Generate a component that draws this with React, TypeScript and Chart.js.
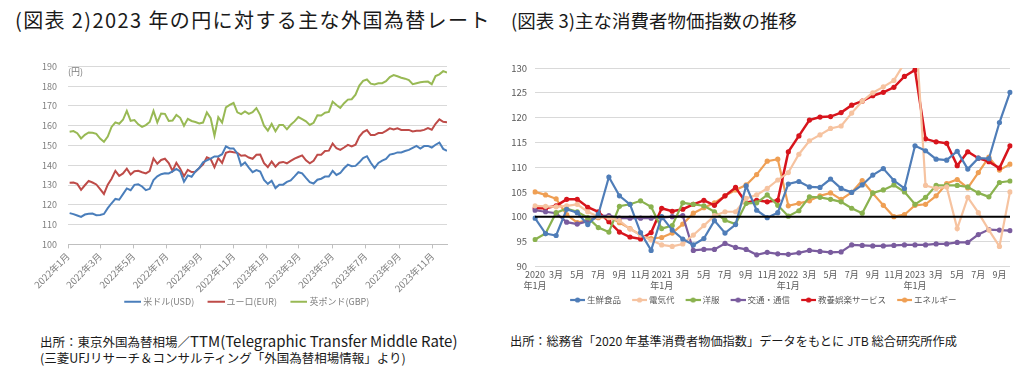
import React, { useEffect, useRef } from 'react';
import { Chart, registerables } from 'chart.js';
Chart.register(...registerables);

const FONT = '"Noto Sans CJK JP", "Noto Sans", sans-serif';

// ===== 図表2: weekly samples of JPY rates =====
const FX_AXIS_START = '2022-01-01';
const FX_AXIS_END = '2023-11-28';
const FX_FIRST_DATE = '2022-01-04';
const FX_STEP_DAYS = 7;
const FX_SERIES_LABELS = ['米ドル(USD)', 'ユーロ(EUR)', '英ポンド(GBP)'];
const FX_TICK_DATES = ['2022-01-01', '2022-03-01', '2022-05-01', '2022-07-01', '2022-09-01', '2022-11-01', '2023-01-01', '2023-03-01', '2023-05-01', '2023-07-01', '2023-09-01', '2023-11-01'];
const FX_TICK_LABELS = ['2022年1月', '2022年3月', '2022年5月', '2022年7月', '2022年9月', '2022年11月', '2023年1月', '2023年3月', '2023年5月', '2023年7月', '2023年9月', '2023年11月'];
const FX_Y_MIN = 100;
const FX_Y_MAX = 190;

const USD_JPY = [
  115.8, 115.3, 114.6, 113.9, 115.1, 115.5, 115.6, 114.8, 114.9, 115.4,
  118.3, 120.8, 123.0, 122.6, 125.4, 128.3, 127.4, 130.1, 130.4, 129.3,
  127.4, 128.1, 132.5, 134.4, 135.5, 136.0, 135.9, 136.9, 138.2, 136.9,
  131.7, 134.9, 134.2, 136.9, 138.6, 141.5, 142.5, 143.4, 144.5, 144.5,
  145.6, 149.6, 148.5, 148.5, 146.0, 139.9, 141.4, 138.8, 136.5, 137.6,
  136.8, 132.6, 130.6, 132.2, 128.5, 130.2, 130.2, 131.6, 132.4, 134.4,
  136.5, 135.9, 133.6, 131.5, 130.8, 132.7, 133.2, 134.3, 134.3, 137.2,
  135.1, 136.1, 138.5, 140.3, 139.5, 139.7, 141.5, 143.7, 144.6, 141.3,
  138.6, 141.2, 142.4, 143.2, 145.4, 145.8, 146.5, 146.5, 147.2, 147.8,
  148.8, 149.8, 148.5, 149.7, 149.8, 149.0, 150.4, 151.5, 148.3, 147.3,
];
const EUR_JPY = [
  131.2, 131.3, 130.6, 127.6, 129.9, 132.1, 131.3, 130.3, 128.0, 125.5,
  130.2, 133.2, 137.2, 134.6, 135.9, 138.3, 135.3, 137.0, 137.2, 136.5,
  135.9, 137.1, 143.5, 140.8, 142.7, 143.3, 141.1, 137.1, 141.3, 138.3,
  134.5, 137.7, 136.6, 136.7, 138.6, 140.4, 144.0, 143.2, 139.0, 143.6,
  141.2, 146.3, 147.0, 146.6, 146.3, 144.8, 145.1, 143.9, 143.3, 145.3,
  145.4, 141.1, 139.1, 141.9, 139.3, 141.3, 141.7, 141.0, 142.2, 143.4,
  144.2, 145.0, 142.5, 141.0, 142.3, 145.3, 145.3, 147.2, 147.4, 151.0,
  148.6, 147.8, 149.0, 150.3, 149.5, 150.4, 154.5, 156.8, 157.8, 155.3,
  155.3, 156.3, 156.3, 157.4, 158.7, 158.1, 158.7, 157.9, 157.8, 157.9,
  157.1, 157.5, 157.5, 157.9, 158.8, 158.0, 161.0, 163.2, 162.0, 161.8,
];
const GBP_JPY = [
  157.0, 157.3, 156.2, 153.6, 155.4, 156.6, 156.4, 155.9, 153.5, 151.9,
  154.5, 159.4, 161.7, 161.0, 163.0, 167.5, 162.5, 162.9, 160.7, 159.4,
  160.3, 161.9, 167.5, 161.7, 166.2, 166.0, 162.4, 162.6, 165.5, 164.0,
  160.0, 163.5, 162.4, 161.9, 161.2, 161.6, 166.7, 163.8, 155.0, 164.3,
  161.6, 169.3, 170.5, 171.5, 166.8, 165.9, 167.2, 166.0, 166.8, 168.9,
  165.4, 160.0, 157.5, 160.9, 157.2, 160.4, 160.4, 158.2, 160.5, 162.2,
  164.4, 163.3, 162.2, 160.4, 161.5, 165.3, 165.2, 166.6, 167.0, 172.2,
  170.5, 169.0, 171.4, 173.2, 173.4, 175.7, 180.3, 182.7, 183.4, 181.3,
  180.9, 181.5, 181.5, 182.5, 184.6, 185.6, 185.0, 184.3, 183.8, 183.1,
  181.0, 181.5, 182.0, 182.2, 182.3, 181.0, 185.1, 186.0, 187.6, 186.9,
];
const FX_COLORS = ['#4a7ebb', '#be4b48', '#98b954'];

// ===== 図表3: monthly CPI (2020=100) =====
const CPI_LABELS = [
  '2020年1月', '2月', '3月', '4月', '5月', '6月', '7月', '8月', '9月', '10月', '11月', '12月',
  '2021年1月', '2月', '3月', '4月', '5月', '6月', '7月', '8月', '9月', '10月', '11月', '12月',
  '2022年1月', '2月', '3月', '4月', '5月', '6月', '7月', '8月', '9月', '10月', '11月', '12月',
  '2023年1月', '2月', '3月', '4月', '5月', '6月', '7月', '8月', '9月', '10月',
];
const CPI_SERIES_LABELS = ['生鮮食品', '電気代', '洋服', '交通・通信', '教養娯楽サービス', 'エネルギー'];
const CPI_BASE = 100;
const CPI_Y_MIN = 90;
const CPI_Y_MAX = 130;

const FRESH_FOOD = [
  99.7, 96.6, 96.2, 101.5, 100.8, 98.4, 100.5, 108.0, 104.2, 102.5, 96.8, 93.2,
  100.0, 97.3, 95.5, 94.3, 95.6, 99.2, 96.7, 98.4, 106.2, 101.3, 99.8, 100.8,
  106.6, 107.1, 106.0, 105.9, 107.6, 105.7, 104.9, 106.4, 108.4, 109.7, 107.3, 105.7,
  114.3, 113.3, 111.6, 111.4, 113.2, 109.6, 111.8, 111.7, 119.0, 125.1,
];
const ELECTRICITY = [
  102.2, 102.1, 102.0, 102.2, 102.5, 101.0, 100.0, 99.8, 99.2, 97.5, 96.3, 95.3,
  94.3, 94.0, 94.5, 96.3, 98.2, 100.2, 101.0, 101.0, 103.7, 104.4, 105.7, 107.4,
  108.9, 112.6, 115.3, 116.5, 117.8, 118.3, 120.9, 123.3, 125.0, 126.2, 127.5, 131.0,
  140.0, 106.3, 105.7, 106.0, 97.6, 103.9, 100.8, 97.3, 94.0, 105.0,
];
const CLOTHING = [
  95.4, 96.6, 100.8, 101.6, 101.0, 99.8, 97.8, 96.9, 102.1, 102.5, 103.2, 102.0,
  97.6, 98.2, 102.8, 102.5, 102.2, 101.0, 99.3, 98.5, 102.7, 102.8, 104.4, 102.3,
  100.1, 101.2, 104.0, 103.9, 103.5, 103.0, 101.7, 100.7, 104.8, 105.4, 106.4, 105.0,
  102.5, 103.9, 106.3, 106.3, 106.3, 106.0, 104.8, 104.0, 106.9, 107.2,
];
const TRANSPORT = [
  101.3, 101.0, 100.7, 98.9, 98.5, 99.1, 100.1, 100.2, 99.7, 99.7, 99.7, 99.7,
  99.8, 100.0, 100.2, 93.2, 93.4, 93.4, 94.6, 93.8, 93.4, 92.3, 92.8, 92.5,
  92.4, 92.7, 93.2, 93.0, 92.8, 92.9, 94.3, 94.2, 94.1, 94.1, 94.2, 94.3,
  94.3, 94.3, 94.5, 94.5, 94.8, 94.8, 96.4, 97.4, 97.3, 97.2,
];
const RECREATION = [
  101.7, 101.7, 102.2, 103.5, 103.5, 101.9, 101.0, 99.0, 96.9, 95.9, 95.5, 96.8,
  101.7, 101.1, 101.5, 102.5, 103.3, 102.3, 104.2, 105.9, 102.8, 103.3, 103.0, 103.3,
  113.1, 116.3, 119.5, 120.1, 120.2, 121.0, 122.5, 123.3, 124.4, 125.1, 126.1, 128.3,
  129.6, 115.7, 115.1, 114.8, 110.3, 113.1, 111.8, 111.1, 109.8, 114.3,
];
const ENERGY = [
  105.0, 104.4, 103.6, 100.4, 98.8, 99.3, 99.8, 100.0, 98.8, 97.6, 96.3, 95.6,
  95.8, 96.7, 98.5, 100.7, 101.8, 102.8, 104.2, 105.4, 106.4, 108.5, 111.2, 111.6,
  102.2, 102.7, 103.2, 104.2, 104.8, 103.5, 104.9, 107.3, 104.7, 102.3, 100.0, 100.4,
  102.3, 102.5, 104.2, 106.7, 107.5, 105.8, 108.9, 112.0, 109.4, 110.6,
];
const CPI_COLORS = ['#4f7db8', '#f6c3a0', '#8ab24f', '#7a5c9e', '#d7141c', '#ef9f54'];

const dayOf = (d: string) =>
  Math.round((Date.parse(d + 'T00:00:00Z') - Date.parse(FX_AXIS_START + 'T00:00:00Z')) / 86400000);

// legend marker image: visible line (length len) drawn at the right end of an image of width imgW
function makeMarker(color: string, imgW: number, len: number, lineWidth: number, radius: number): HTMLCanvasElement {
  const c = document.createElement('canvas');
  const h = Math.ceil(Math.max(lineWidth, radius * 2) + 2);
  c.width = imgW;
  c.height = h;
  const ctx = c.getContext('2d')!;
  ctx.strokeStyle = color;
  ctx.lineWidth = lineWidth;
  ctx.beginPath();
  ctx.moveTo(imgW - len, h / 2);
  ctx.lineTo(imgW, h / 2);
  ctx.stroke();
  if (radius > 0) {
    ctx.fillStyle = color;
    ctx.beginPath();
    ctx.arc(imgW - len / 2, h / 2, radius, 0, Math.PI * 2);
    ctx.fill();
  }
  return c;
}

export default function App() {
  const c1 = useRef<HTMLCanvasElement>(null);
  const c2 = useRef<HTMLCanvasElement>(null);

  useEffect(() => {
    const firstDay = dayOf(FX_FIRST_DATE);
    const fxSeries = [USD_JPY, EUR_JPY, GBP_JPY];
    const fxMarkers = FX_COLORS.map((c) => makeMarker(c, 30, 17, 2, 0));
    const chart1 = new Chart(c1.current!, {
      type: 'line',
      data: {
        datasets: fxSeries.map((arr, k) => ({
          label: FX_SERIES_LABELS[k],
          data: arr.map((y, i) => ({ x: firstDay + i * FX_STEP_DAYS, y })),
          borderColor: FX_COLORS[k],
          backgroundColor: FX_COLORS[k],
          borderWidth: 2,
          pointRadius: 0,
          pointHoverRadius: 0,
          tension: 0,
        })),
      },
      options: {
        animation: false,
        responsive: true,
        maintainAspectRatio: false,
        layout: { padding: { left: 36, right: 58, top: 12.7, bottom: 3.8 } },
        plugins: {
          tooltip: { enabled: false },
          legend: {
            position: 'bottom',
            labels: {
              usePointStyle: true,
              pointStyleWidth: 25,
              padding: 2.8,
              color: '#7f7f7f',
              font: { family: FONT, size: 9 },
              generateLabels: (chart: any) =>
                chart.data.datasets.map((ds: any, i: number) => ({
                  text: ds.label,
                  pointStyle: fxMarkers[i],
                  fillStyle: ds.borderColor,
                  strokeStyle: ds.borderColor,
                  fontColor: '#7f7f7f',
                  lineWidth: 0,
                  hidden: false,
                  datasetIndex: i,
                })),
            },
          },
        },
        scales: {
          x: {
            type: 'linear',
            min: 0,
            max: dayOf(FX_AXIS_END),
            afterBuildTicks: (s: any) => {
              s.ticks = FX_TICK_DATES.map((d) => ({ value: dayOf(d) }));
            },
            afterFit: (s: any) => {
              s.height = 50;
            },
            grid: { drawOnChartArea: false, drawTicks: true, tickLength: 4, color: '#bfbfbf' },
            border: { display: true, color: '#bfbfbf' },
            ticks: {
              autoSkip: false,
              minRotation: 45,
              maxRotation: 45,
              padding: 2,
              color: '#7f7f7f',
              font: { family: FONT, size: 9.5 },
              callback: (_v: any, i: number) => FX_TICK_LABELS[i],
            },
          },
          y: {
            min: FX_Y_MIN,
            max: FX_Y_MAX,
            afterFit: (s: any) => {
              s.width = 32;
            },
            ticks: { stepSize: 10, padding: 11, color: '#7f7f7f', font: { family: FONT, size: 9 } },
            grid: { color: '#d9d9d9', drawTicks: false },
            border: { display: false },
          },
        },
      },
    } as any);

    const cpiSeries = [FRESH_FOOD, ELECTRICITY, CLOTHING, TRANSPORT, RECREATION, ENERGY];
    const cpiMarkers = CPI_COLORS.map((c) => makeMarker(c, 24, 15, 2.2, 2.6));
    const chart2 = new Chart(c2.current!, {
      type: 'line',
      data: {
        labels: CPI_LABELS,
        datasets: [
          {
            label: '',
            data: CPI_LABELS.map(() => CPI_BASE),
            borderColor: '#000000',
            borderWidth: 2,
            pointRadius: 0,
            pointHoverRadius: 0,
          },
          ...cpiSeries.map((arr, k) => ({
            label: CPI_SERIES_LABELS[k],
            data: arr,
            borderColor: CPI_COLORS[k],
            backgroundColor: CPI_COLORS[k],
            pointBackgroundColor: CPI_COLORS[k],
            pointBorderWidth: 0,
            pointRadius: 2.6,
            pointHoverRadius: 2.6,
            borderWidth: k === 4 ? 2.5 : 2.2,
            tension: 0,
          })),
        ],
      },
      options: {
        animation: false,
        responsive: true,
        maintainAspectRatio: false,
        layout: { padding: { left: 5, right: 16, top: 18, bottom: 0.75 } },
        plugins: {
          tooltip: { enabled: false },
          legend: {
            position: 'bottom',
            labels: {
              usePointStyle: true,
              pointStyleWidth: 19.25,
              padding: 4.5,
              color: '#595959',
              font: { family: FONT, size: 8.5 },
              generateLabels: (chart: any) =>
                chart.data.datasets
                  .map((ds: any, i: number) => ({
                    text: ds.label,
                    pointStyle: cpiMarkers[i - 1],
                    fillStyle: ds.borderColor,
                    strokeStyle: ds.borderColor,
                    fontColor: '#595959',
                    lineWidth: 0,
                    hidden: false,
                    datasetIndex: i,
                  }))
                  .filter((_it: any, i: number) => i > 0),
            },
          },
        },
        scales: {
          x: {
            type: 'category',
            offset: false,
            afterFit: (s: any) => {
              s.height = 25;
            },
            grid: { display: false, drawTicks: false, tickLength: 0 },
            border: { display: false },
            ticks: {
              autoSkip: false,
              maxRotation: 0,
              minRotation: 0,
              padding: 3,
              color: '#595959',
              font: { family: FONT, size: 9, lineHeight: 1.2 },
              callback: (_v: any, i: number) => {
                if (i % 2 !== 0) return '';
                const l = CPI_LABELS[i];
                const p = l.indexOf('年');
                return p > 0 ? [l.slice(0, p), l.slice(p)] : l;
              },
            },
          },
          y: {
            min: CPI_Y_MIN,
            max: CPI_Y_MAX,
            afterFit: (s: any) => {
              s.width = 25;
            },
            ticks: { stepSize: 5, padding: 8, color: '#595959', font: { family: FONT, size: 9.5 } },
            grid: { color: '#d9d9d9', drawTicks: false },
            border: { display: false },
          },
        },
      },
    } as any);

    return () => {
      chart1.destroy();
      chart2.destroy();
    };
  }, []);

  const titleStyle: React.CSSProperties = {
    position: 'absolute',
    top: 6,
    lineHeight: '28px',
    color: '#1a1a1a',
    whiteSpace: 'nowrap',
    fontFamily: FONT,
  };
  const noteStyle: React.CSSProperties = {
    position: 'absolute',
    fontSize: 12.5,
    lineHeight: '16px',
    color: '#1a1a1a',
    whiteSpace: 'nowrap',
    fontFamily: FONT,
  };

  return (
    <div style={{ position: 'absolute', left: 0, top: 0, width: 1026, height: 375, background: '#ffffff', overflow: 'hidden' }}>
      <div style={{ ...titleStyle, left: 15, fontSize: 20, letterSpacing: 1.4 }}>(図表 2)2023 年の円に対する主な外国為替レート</div>
      <div style={{ ...titleStyle, left: 511, fontSize: 18.5 }}>(図表 3)主な消費者物価指数の推移</div>
      <div style={{ position: 'absolute', left: 0, top: 50, width: 505, height: 270 }}>
        <canvas ref={c1} />
      </div>
      <div style={{ position: 'absolute', left: 505, top: 50, width: 521, height: 265 }}>
        <canvas ref={c2} />
      </div>
      <div style={{ position: 'absolute', left: 68, top: 65, fontSize: 9, lineHeight: '13px', color: '#7f7f7f', fontFamily: FONT }}>(円)</div>
      <div style={{ ...noteStyle, left: 40, top: 333 }}>
        出所：東京外国為替相場／<span style={{ fontSize: 15 }}>TTM(Telegraphic Transfer Middle Rate)</span>
        <br />
        (三菱UFJリサーチ＆コンサルティング「外国為替相場情報」より)
      </div>
      <div style={{ ...noteStyle, left: 510, top: 333, fontSize: 12.2 }}>出所：総務省「2020 年基準消費者物価指数」データをもとに JTB 総合研究所作成</div>
    </div>
  );
}
